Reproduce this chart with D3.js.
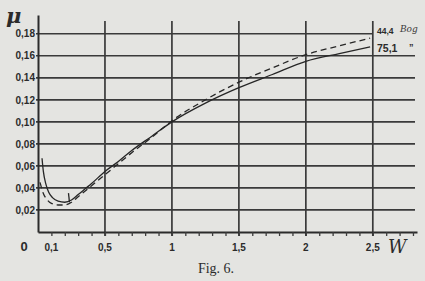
<!DOCTYPE html>
<html>
<head>
<meta charset="utf-8">
<script src="https://cdn.jsdelivr.net/npm/d3@7"></script>
<style>
body { margin: 0; background: #e4e4e1; }
svg { display: block; }
.lab { font-family: "Liberation Sans", Arial, sans-serif; font-weight: bold; font-size: 10px; fill: #2b2b2b; }
</style>
</head>
<body>
<script>
var width = 425, height = 281;

// friction coefficient curves
var w75  = [0.03, 0.04, 0.06, 0.08, 0.11, 0.15, 0.2, 0.25, 0.3, 0.4, 0.5, 0.6, 0.7, 0.85, 1.0, 1.25, 1.5, 1.75, 2.0, 2.25, 2.48];
var mu75 = [0.067, 0.055, 0.043, 0.036, 0.031, 0.028, 0.027, 0.029, 0.034, 0.044, 0.055, 0.064, 0.074, 0.087, 0.100, 0.117, 0.131, 0.143, 0.155, 0.162, 0.168];

var w44  = [0.015, 0.04, 0.07, 0.1, 0.15, 0.2, 0.25, 0.3, 0.4, 0.5, 0.6, 0.7, 0.85, 1.0, 1.25, 1.5, 1.75, 2.0, 2.25, 2.48];
var mu44 = [0.045, 0.035, 0.029, 0.026, 0.0245, 0.0245, 0.027, 0.032, 0.042, 0.052, 0.062, 0.072, 0.086, 0.101, 0.120, 0.136, 0.149, 0.161, 0.169, 0.176];

var yTicks = [0.02, 0.04, 0.06, 0.08, 0.10, 0.12, 0.14, 0.16, 0.18];
var xGrid = [0.5, 1, 1.5, 2, 2.5];
var xLabels = [0.1, 0.5, 1, 1.5, 2, 2.5];
var xMinor = d3.range(1, 29).map(function(i) { return i / 10; });

var x = d3.scaleLinear().domain([0, 2.83]).range([38, 417]);
var y = d3.scaleLinear().domain([0, 0.197]).range([232, 15]);

var comma = function(d) { return String(d).replace(".", ","); };

var svg = d3.select("body").append("svg")
    .attr("width", width)
    .attr("height", height);

// horizontal grid
svg.selectAll(".hgrid")
    .data(yTicks)
    .enter().append("line")
    .attr("class", "hgrid")
    .attr("x1", 36)
    .attr("x2", function(d) { return d === 0.18 ? x(2.5) : 415; })
    .attr("y1", function(d) { return y(d); })
    .attr("y2", function(d) { return y(d); })
    .attr("stroke", "#3a3a3a")
    .attr("stroke-width", 1.7);

// vertical grid
svg.selectAll(".vgrid")
    .data(xGrid)
    .enter().append("line")
    .attr("class", "vgrid")
    .attr("x1", function(d) { return x(d); })
    .attr("x2", function(d) { return x(d); })
    .attr("y1", 21)
    .attr("y2", 236)
    .attr("stroke", "#3a3a3a")
    .attr("stroke-width", 1.7);

// x axis with minor ticks
var xAxis = d3.axisBottom(x)
    .tickValues(xMinor)
    .tickSizeInner(4)
    .tickSizeOuter(0)
    .tickFormat("");

var gx = svg.append("g")
    .attr("transform", "translate(0," + y(0) + ")")
    .call(xAxis);
gx.select(".domain").attr("stroke", "#2b2b2b").attr("stroke-width", 2);
gx.selectAll(".tick line").attr("stroke", "#3c3c3c").attr("stroke-width", 1.3);

svg.selectAll(".xlab")
    .data(xLabels)
    .enter().append("text")
    .attr("class", "lab")
    .attr("x", function(d) { return x(d); })
    .attr("y", 251)
    .attr("text-anchor", "middle")
    .text(function(d) { return comma(d); });

// y axis
var yAxis = d3.axisLeft(y)
    .tickValues(yTicks)
    .tickSizeInner(0)
    .tickSizeOuter(0)
    .tickPadding(3)
    .tickFormat(function(d) { return comma(d3.format(".2f")(d)); });

var gy = svg.append("g")
    .attr("transform", "translate(" + x(0) + ",0)")
    .call(yAxis);
gy.select(".domain").attr("stroke", "#2b2b2b").attr("stroke-width", 2);
gy.selectAll(".tick text")
    .attr("class", "lab")
    .attr("fill", null);
gy.attr("font-family", null).attr("font-size", null);

svg.append("text")
    .attr("class", "lab")
    .attr("x", 24)
    .attr("y", 251)
    .attr("text-anchor", "middle")
    .style("font-size", "13px")
    .text("0");

// curves
var line = d3.line()
    .x(function(d) { return x(d[0]); })
    .y(function(d) { return y(d[1]); })
    .curve(d3.curveMonotoneX);

svg.append("path")
    .datum(d3.zip(w75, mu75))
    .attr("d", line)
    .attr("fill", "none")
    .attr("stroke", "#262626")
    .attr("stroke-width", 1.3);

svg.append("path")
    .datum(d3.zip(w44, mu44))
    .attr("d", line)
    .attr("fill", "none")
    .attr("stroke", "#262626")
    .attr("stroke-width", 1.3)
    .attr("stroke-dasharray", "6,4");

// small check mark near the minimum
svg.append("path")
    .attr("d", "M" + (x(0.235) - 1) + "," + (y(0.028) - 8) + "L" + x(0.235) + "," + y(0.027))
    .attr("stroke", "#262626")
    .attr("stroke-width", 1.3);

// curve labels
svg.append("text")
    .attr("class", "lab")
    .attr("x", 377).attr("y", 34)
    .style("font-size", "8.5px")
    .text("44,4");
svg.append("text")
    .attr("x", 400).attr("y", 32)
    .style("font-family", "DejaVu Serif, serif")
    .style("font-style", "italic")
    .style("font-size", "9px")
    .attr("fill", "#3a3a3a")
    .text("Bog");
svg.append("text")
    .attr("class", "lab")
    .attr("x", 377).attr("y", 52)
    .style("font-size", "10.5px")
    .text("75,1");
svg.append("text")
    .attr("class", "lab")
    .attr("x", 409).attr("y", 50)
    .style("font-size", "9px")
    .text("\u201D");

// axis symbols
svg.append("text")
    .attr("x", 6).attr("y", 23)
    .style("font-family", "DejaVu Serif, serif")
    .style("font-style", "italic")
    .style("font-weight", "bold")
    .style("font-size", "21px")
    .attr("fill", "#2b2b2b")
    .text("\u03BC");
svg.append("text")
    .attr("x", 388).attr("y", 253)
    .style("font-family", "DejaVu Serif, serif")
    .style("font-style", "italic")
    .style("font-size", "18px")
    .attr("fill", "#2b2b2b")
    .text("W");

svg.append("text")
    .attr("x", 216).attr("y", 273)
    .attr("text-anchor", "middle")
    .style("font-family", "Liberation Serif, serif")
    .style("font-size", "14px")
    .attr("fill", "#2b2b2b")
    .text("Fig. 6.");
</script>
</body>
</html>
